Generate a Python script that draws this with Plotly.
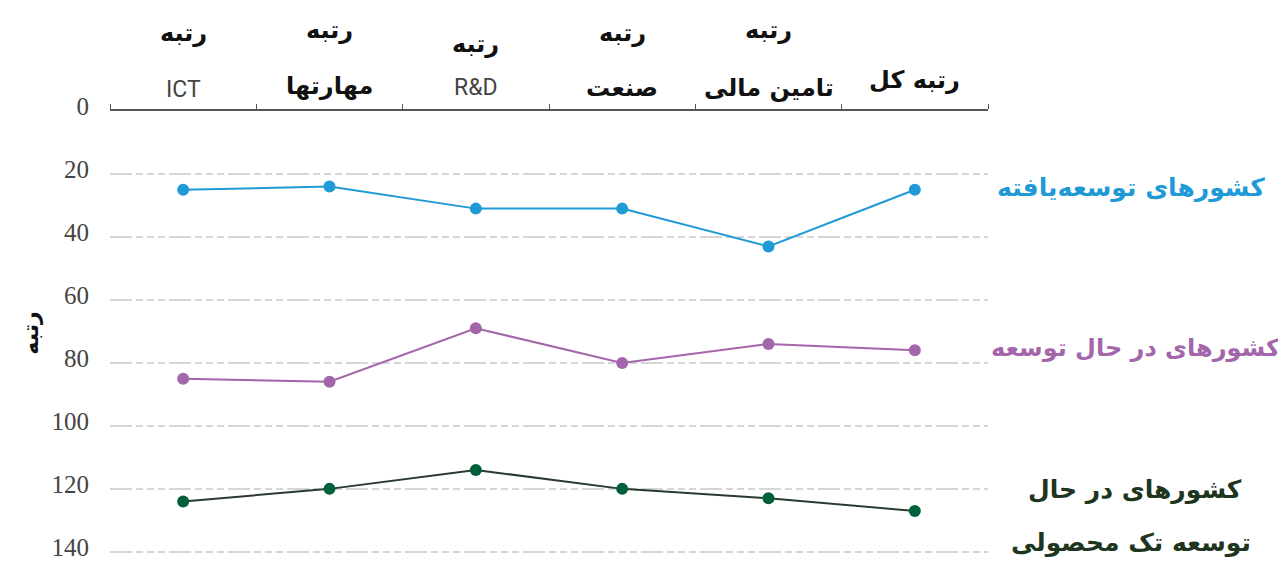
import plotly.graph_objects as go

categories = ["ICT", "مهارتها", "R&D", "صنعت", "تامین مالی", "رتبه کل"]
header_top = ["رتبه", "رتبه", "رتبه", "رتبه", "رتبه", ""]
developed = [25, 24, 31, 31, 43, 25]
developing = [85, 86, 69, 80, 74, 76]
single_product = [124, 120, 114, 120, 123, 127]
y_ticks = [0, 20, 40, 60, 80, 100, 120, 140]

series = [
    (["کشورهای توسعه‌یافته"], developed, "#1f9ad6", "#1f9ad6", "#1f9ad6"),
    (["کشورهای در حال توسعه"], developing, "#a466aa", "#a466aa", "#a466aa"),
    (["کشورهای در حال", "توسعه تک محصولی"], single_product, "#2a3a2c", "#00603a", "#1e3520"),
]

OFF = 8  # page body margin
W, H = 1286 - OFF, 561 - OFF
# plot box in screen pixels
L_s, R_s, T_s, B_s = 110, 988, 111, 555
ml, mr, mt, mb = L_s - OFF, W - (R_s - OFF), T_s - OFF, H - (B_s - OFF)
ph = H - mt - mb
pw = W - ml - mr

def py(pix):
    return 1 - (pix - T_s) / ph

def px(pix):
    return (pix - L_s) / pw

fig = go.Figure()
for name, vals, lc, mc, tc in series:
    fig.add_trace(go.Scatter(
        x=categories, y=vals, mode="lines+markers", name=" ".join(name),
        line=dict(color=lc, width=2),
        marker=dict(color=mc, size=12),
        showlegend=False, cliponaxis=False,
    ))

ann = []
top_y = [33, 30, 44, 33, 30, 0]
bot_y = [90, 86, 88, 88, 88, 80]
for i, c in enumerate(categories):
    latin = c.isascii()
    if header_top[i]:
        ann.append(dict(x=c, xref="x", y=py(top_y[i]), yref="paper", text="<b>" + header_top[i] + "</b>",
                        showarrow=False, yanchor="middle", xanchor="center",
                        font=dict(family="DejaVu Sans", size=24, color="#111")))
    if latin:
        ann.append(dict(x=c, xref="x", y=py(bot_y[i]), yref="paper", text=c, showarrow=False,
                        yanchor="middle", xanchor="center",
                        font=dict(family="Roboto", size=23, color="#444")))
    else:
        ann.append(dict(x=c, xref="x", y=py(bot_y[i]), yref="paper", text="<b>" + c + "</b>", showarrow=False,
                        yanchor="middle", xanchor="center",
                        font=dict(family="DejaVu Sans", size=24, color="#111")))

label_pos = [[(1131, 188)], [(1135, 348)], [(1135, 490), (1131, 543)]]
label_size = [25, 24, 25]
for (name, vals, lc, mc, tc), poss, fs in zip(series, label_pos, label_size):
    for line, (lx, ly) in zip(name, poss):
        ann.append(dict(x=px(lx), xref="paper", y=py(ly), yref="paper",
                        text="<b>" + line + "</b>", showarrow=False,
                        font=dict(family="DejaVu Sans", size=fs, color=tc),
                        xanchor="center", yanchor="middle", align="center"))

fig.update_layout(
    width=W, height=H,
    margin=dict(l=ml, r=mr, t=mt, b=mb),
    plot_bgcolor="white", paper_bgcolor="white",
    annotations=ann,
    xaxis=dict(
        type="category", side="top", showline=True, linecolor="#555", linewidth=1.5,
        ticks="outside", tickson="boundaries", ticklen=5, tickcolor="#555",
        showticklabels=False, showgrid=False, zeroline=False, automargin=False,
        range=[-0.5, len(categories) - 0.5],
    ),
    yaxis=dict(
        range=[141, 0], tickvals=y_ticks, showline=False, zeroline=False, automargin=False,
        showgrid=True, gridcolor="#d6d6d6", gridwidth=1.5, griddash="22px,4px,7px,4px,7px,4px,7px,4px",
        tickfont=dict(family="Liberation Sans Narrow", size=25, color="#444"),
        ticks="", ticklabelstandoff=20, ticklabeloverflow="allow", ticklabelshift=5,
        title=dict(text="<b>رتبه</b>", font=dict(family="DejaVu Sans", size=22, color="#111"), standoff=6),
    ),
)

fig.write_html("out.html")
